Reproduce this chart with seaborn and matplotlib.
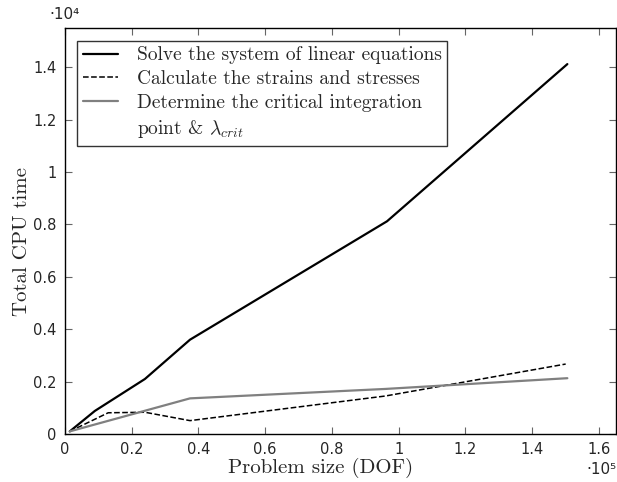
import pandas as pd
import seaborn as sns
import matplotlib.pyplot as plt
from matplotlib.lines import Line2D
from matplotlib.ticker import FuncFormatter, MultipleLocator

# valeurs (DOF, temps CPU)
dof_solve = [1500, 9000, 24000, 37500, 96500, 150500]
time_solve = [100, 880, 2100, 3600, 8120, 14120]

dof_strain = [1500, 13000, 24000, 37500, 96000, 150000]
time_strain = [100, 810, 830, 510, 1450, 2670]

dof_crit = [1500, 37500, 96000, 150500]
time_crit = [100, 1360, 1720, 2130]

labels = ["Solve the system of linear equations",
          "Calculate the strains and stresses",
          "Determine the critical integration"]
label_suite = "point & $\\lambda_{crit}$"

df = pd.concat([
    pd.DataFrame({"dof": dof_solve, "time": time_solve, "serie": labels[0]}),
    pd.DataFrame({"dof": dof_strain, "time": time_strain, "serie": labels[1]}),
    pd.DataFrame({"dof": dof_crit, "time": time_crit, "serie": labels[2]}),
])

sns.set_style("ticks")
plt.rcParams["mathtext.fontset"] = "cm"
plt.rcParams["font.family"] = ["DejaVu Sans"]

fig = plt.figure(figsize=(6.17, 4.82), dpi=100)
ax = fig.add_axes([0.105, 0.0996, 0.893, 0.8424])

styles = [("black", "-", 1.6), ("black", "--", 1.1), ("#808080", "-", 1.6)]
handles = []
for lab, (c, ls, lw) in zip(labels, styles):
    sub = df[df["serie"] == lab]
    sns.lineplot(data=sub, x="dof", y="time", ax=ax, color=c, linestyle=ls,
                 linewidth=lw, sort=False, estimator=None)
    handles.append(Line2D([], [], color=c, linestyle=ls, linewidth=lw))
# deuxième ligne du libellé gris, sans trait
handles.append(Line2D([], [], color="none"))

ax.set_xlim(0, 165000)
ax.set_ylim(0, 15500)
ax.xaxis.set_major_locator(MultipleLocator(20000))
ax.yaxis.set_major_locator(MultipleLocator(2000))
ax.xaxis.set_major_formatter(FuncFormatter(lambda v, p: "%g" % round(v / 1e5, 2)))
ax.yaxis.set_major_formatter(FuncFormatter(lambda v, p: "%g" % round(v / 1e4, 2)))
ax.tick_params(direction="in", top=True, right=True, length=5, width=0.8,
               color="#666666", labelsize=10.5, pad=6)
for s in ax.spines.values():
    s.set_color("black")
    s.set_linewidth(1.0)

ax.set_xlabel("Problem size (DOF)", family="cmr10", fontsize=15, va="center")
ax.set_ylabel("Total CPU time", family="cmr10", fontsize=15, va="center")
ax.xaxis.set_label_coords(0.465, -0.083)
ax.yaxis.set_label_coords(-0.078, 0.475)

ax.text(0.0, 1.015, "\u00b710\u2074", transform=ax.transAxes, fontsize=11,
        ha="center", va="bottom")
fig.text(0.999, 0.025, "\u00b710\u2075", fontsize=11, ha="right", va="center")

leg = ax.legend(handles, labels + [label_suite], loc="upper left",
                prop={"family": "cmr10", "size": 14},
                fancybox=False, frameon=True, handlelength=1.8,
                handletextpad=0.95, borderpad=0.3, labelspacing=0.3,
                borderaxespad=0.65)
leg.get_frame().set_edgecolor("black")
leg.get_frame().set_linewidth(1.0)

fig.savefig("out.png", dpi=100)
